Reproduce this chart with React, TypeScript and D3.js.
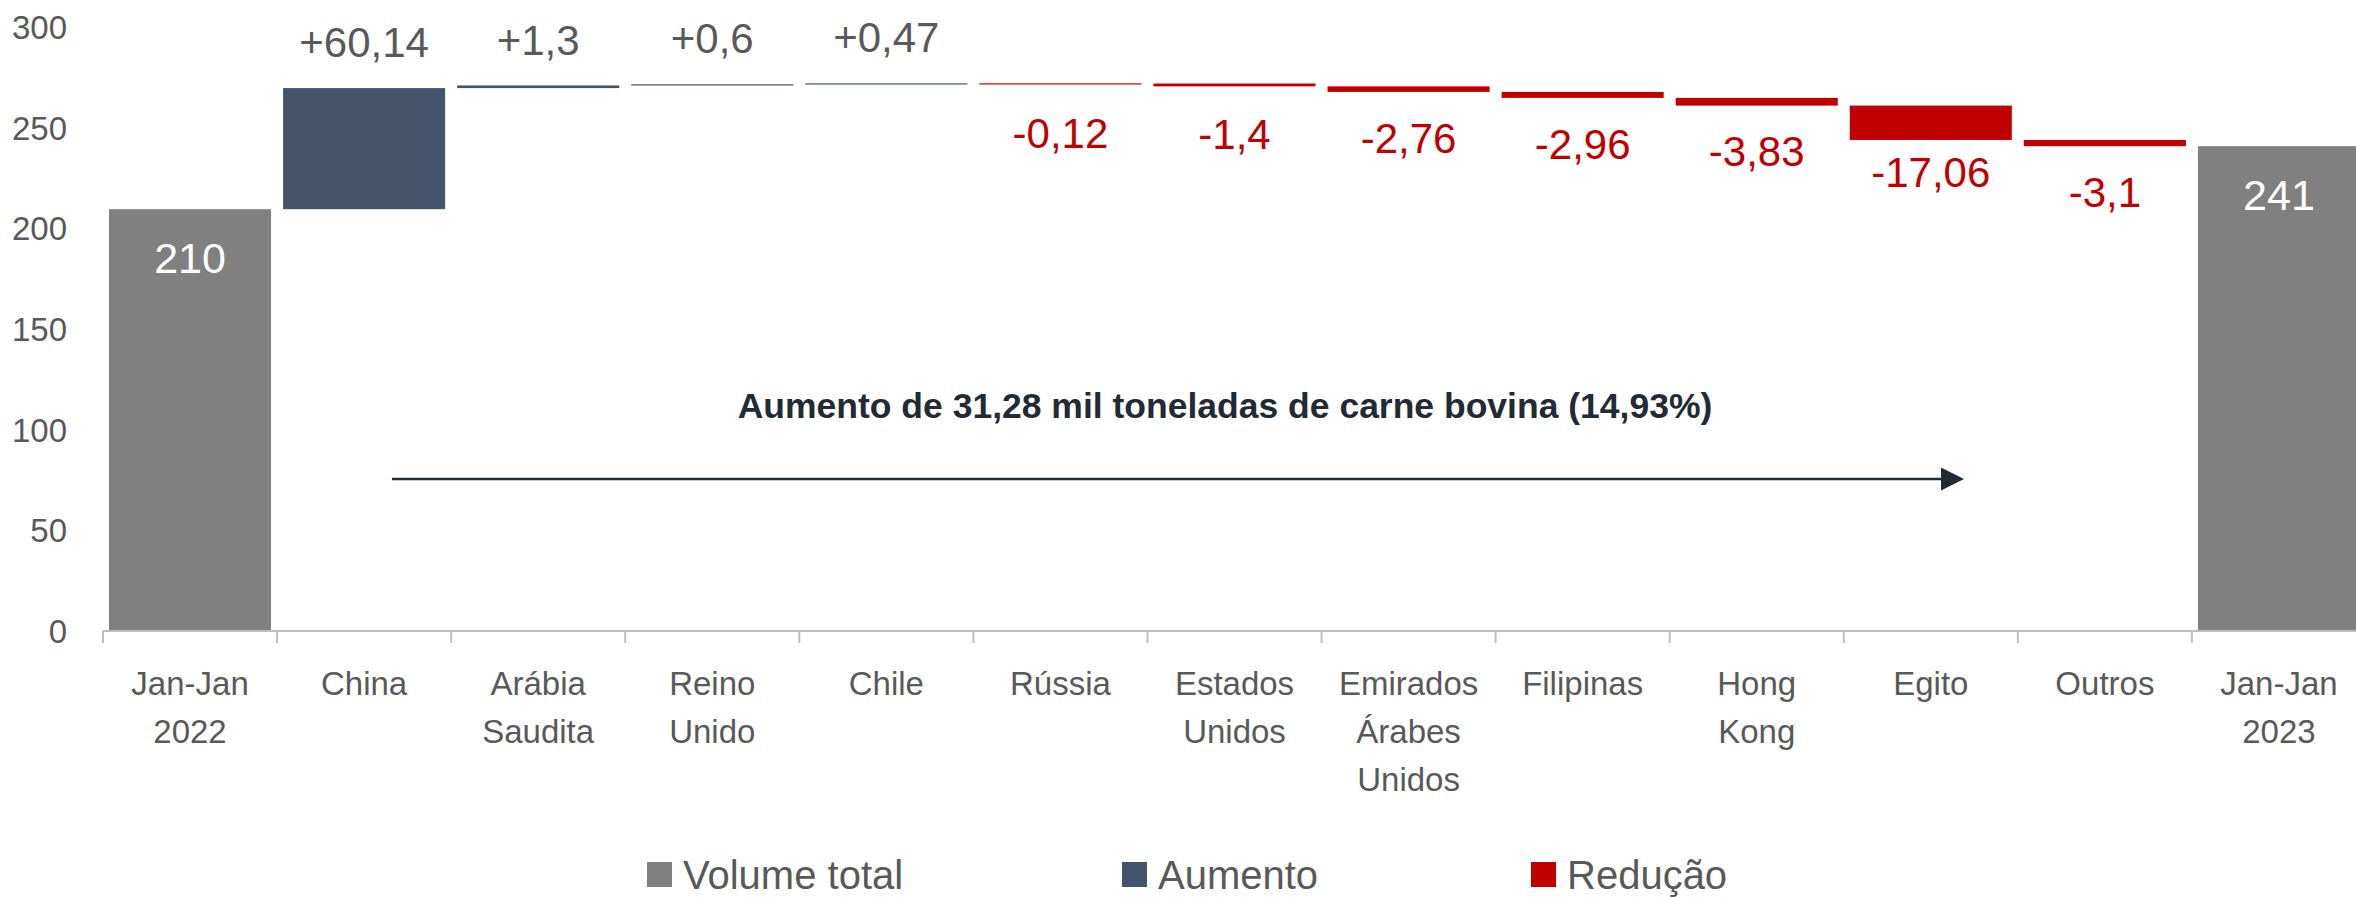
import React from "react";
import * as d3 from "d3";

const categories: string[][] = [
  ["Jan-Jan", "2022"],
  ["China"],
  ["Arábia", "Saudita"],
  ["Reino", "Unido"],
  ["Chile"],
  ["Rússia"],
  ["Estados", "Unidos"],
  ["Emirados", "Árabes", "Unidos"],
  ["Filipinas"],
  ["Hong", "Kong"],
  ["Egito"],
  ["Outros"],
  ["Jan-Jan", "2023"],
];
const startTotal = 209.52;
const endTotal = 240.8;
const totalLabels = ["210", "241"];
const deltas = [60.14, 1.3, 0.6, 0.47, -0.12, -1.4, -2.76, -2.96, -3.83, -17.06, -3.1];
const deltaLabels = ["+60,14", "+1,3", "+0,6", "+0,47", "-0,12", "-1,4", "-2,76", "-2,96", "-3,83", "-17,06", "-3,1"];
const yTicks = [0, 50, 100, 150, 200, 250, 300];
const legendItems = ["Volume total", "Aumento", "Redução"];
const annotationText = "Aumento de 31,28 mil toneladas de carne bovina (14,93%)";

const W = 2356;
const H = 897;
const FONT = "'Liberation Sans', Arial, sans-serif";
const C_TOTAL = "#808080";
const C_UP = "#44546A";
const C_DOWN = "#C00000";
const C_TEXT = "#595959";
const C_AXIS = "#BFBFBF";
const C_NOTE = "#222A35";

type Bar = { i: number; y0: number; y1: number; kind: "total" | "up" | "down"; label: string };

export default function App() {
  const x = d3
    .scaleBand<number>()
    .domain(d3.range(categories.length))
    .range([103, 2366])
    .paddingInner(0.069)
    .paddingOuter(0.0345);
  const y = d3.scaleLinear().domain([0, 300]).range([631, 27]);

  const bars: Bar[] = [];
  bars.push({ i: 0, y0: 0, y1: startTotal, kind: "total", label: totalLabels[0] });
  let acc = startTotal;
  deltas.forEach((d, k) => {
    const next = acc + d;
    bars.push({ i: k + 1, y0: acc, y1: next, kind: d >= 0 ? "up" : "down", label: deltaLabels[k] });
    acc = next;
  });
  bars.push({ i: categories.length - 1, y0: 0, y1: endTotal, kind: "total", label: totalLabels[1] });

  const step = x.step();
  const x0 = x.range()[0];
  const axisY = y(0);

  const legendX = [647, 1122, 1531];
  const legendColors = [C_TOTAL, C_UP, C_DOWN];

  return (
    <svg
      width={W}
      height={H}
      style={{ position: "absolute", left: 0, top: 0, background: "#fff" }}
      fontFamily={FONT}
    >
      <rect x={0} y={0} width={W} height={H} fill="#fff" />
      {/* y tick labels */}
      {yTicks.map((t) => (
        <text key={t} x={67} y={y(t)} dy="0.36em" textAnchor="end" fontSize={33} fill={C_TEXT}>
          {t}
        </text>
      ))}
      {/* bars */}
      {bars.map((b) => {
        const top = y(Math.max(b.y0, b.y1));
        const bot = y(Math.min(b.y0, b.y1));
        const h = Math.max(1.2, bot - top);
        const fill = b.kind === "total" ? C_TOTAL : b.kind === "up" ? C_UP : C_DOWN;
        return (
          <rect key={"b" + b.i} x={x(b.i)} y={top} width={x.bandwidth()} height={h} fill={fill} />
        );
      })}
      {/* bar labels */}
      {bars.map((b) => {
        const cx = (x(b.i) as number) + x.bandwidth() / 2;
        const top = y(Math.max(b.y0, b.y1));
        const bot = y(Math.min(b.y0, b.y1));
        if (b.kind === "total") {
          return (
            <text key={"l" + b.i} x={cx} y={top + 48} dy="0.36em" textAnchor="middle" fontSize={43} fill="#fff">
              {b.label}
            </text>
          );
        }
        if (b.kind === "up") {
          return (
            <text key={"l" + b.i} x={cx} y={top - 46} dy="0.36em" textAnchor="middle" fontSize={42} fill={C_TEXT}>
              {b.label}
            </text>
          );
        }
        return (
          <text key={"l" + b.i} x={cx} y={(top + bot) / 2 + 49} dy="0.36em" textAnchor="middle" fontSize={42} fill={C_DOWN}>
            {b.label}
          </text>
        );
      })}
      {/* x axis */}
      <line x1={x0} x2={W} y1={axisY} y2={axisY} stroke={C_AXIS} strokeWidth={2} />
      {d3.range(categories.length + 1).map((k) => (
        <line
          key={"t" + k}
          x1={x0 + k * step}
          x2={x0 + k * step}
          y1={axisY}
          y2={axisY + 12}
          stroke={C_AXIS}
          strokeWidth={2}
        />
      ))}
      {categories.map((lines, i) => (
        <text key={"c" + i} textAnchor="middle" fontSize={33} fill={C_TEXT}>
          {lines.map((ln, j) => (
            <tspan key={j} x={(x(i) as number) + x.bandwidth() / 2} y={683 + j * 48} dy="0.36em">
              {ln}
            </tspan>
          ))}
        </text>
      ))}
      {/* annotation */}
      <text x={1225} y={405} dy="0.36em" textAnchor="middle" fontSize={35.5} fontWeight="bold" fill={C_NOTE}>
        {annotationText}
      </text>
      <line x1={392} x2={1944} y1={479} y2={479} stroke={C_NOTE} strokeWidth={2.5} />
      <path d={`M1941,467.5 L1964,479 L1941,490.5 Z`} fill={C_NOTE} />
      {/* legend */}
      {legendItems.map((name, k) => (
        <g key={"lg" + k}>
          <rect x={legendX[k]} y={862} width={25} height={25} fill={legendColors[k]} />
          <text x={legendX[k] + 36} y={875} dy="0.36em" fontSize={40} fill={C_TEXT}>
            {name}
          </text>
        </g>
      ))}
    </svg>
  );
}
